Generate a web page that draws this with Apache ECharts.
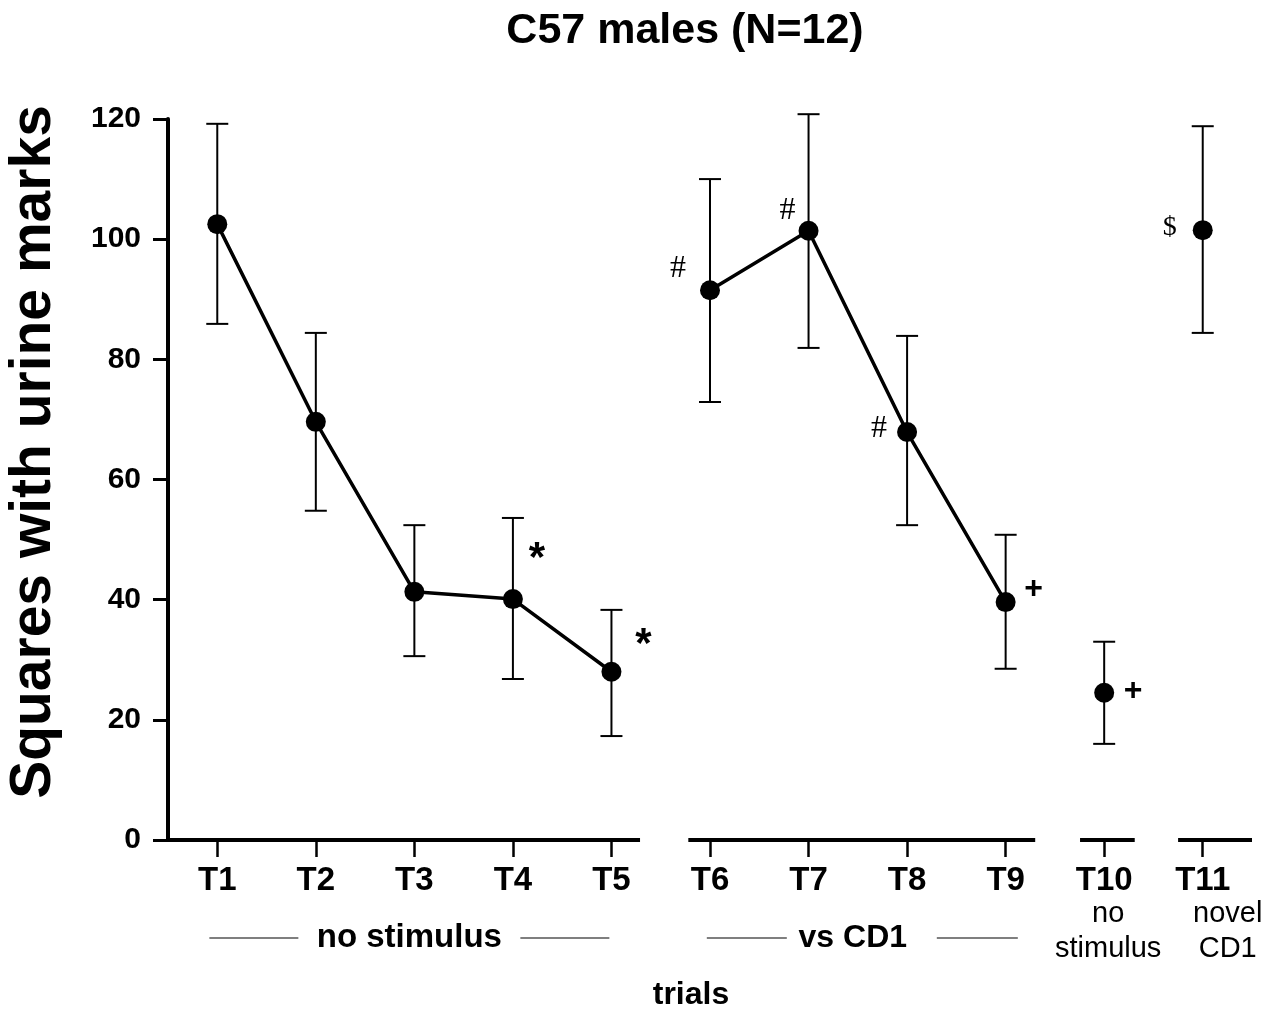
<!DOCTYPE html>
<html>
<head>
<meta charset="utf-8">
<script src="https://cdn.jsdelivr.net/npm/echarts@6/dist/echarts.min.js"></script>
<style>
html, body { margin: 0; padding: 0; background: #fff; }
#main { width: 1284px; height: 1014px; }
</style>
</head>
<body>
<div id="main"></div>
<script>
// data
var trials = ['T1', 'T2', 'T3', 'T4', 'T5', 'T6', 'T7', 'T8', 'T9', 'T10', 'T11'];
var means = [102.5, 69.6, 41.3, 40.1, 28.0, 91.5, 101.4, 67.9, 39.6, 24.5, 101.5];
var upper = [119.2, 84.4, 52.4, 53.6, 38.3, 110.0, 120.8, 83.9, 50.8, 33.0, 118.8];
var lower = [85.9, 54.8, 30.6, 26.8, 17.3, 72.9, 81.9, 52.4, 28.5, 16.0, 84.4];
var phase = [1, 1, 1, 1, 1, 2, 2, 2, 2, 3, 4];
var marks = ['', '', '', '*', '*', '#', '#', '#', '+', '+', '$'];

// layout bits (not data)
var font = "'Liberation Sans', Arial, sans-serif";
var serif = "'Liberation Serif', 'Times New Roman', serif";
var ink = '#000';
var markOffsets = [[0, 0], [0, 0], [0, 0], [24, -40], [32, -26], [-32, -22], [-21, -20], [-28, -3], [28, -13], [29, -2], [-33, -3]];
var axisPieces = [[0, -0.5, 4, 0.29], [5, -0.22, 8, 0.3], [9, -0.245, 9, 0.31], [10, -0.25, 10, 0.5]];

function lineFor(p) {
    return means.map(function (v, i) { return phase[i] === p ? v : '-'; });
}

var markStyle = {
    '*': { fontFamily: font, fontWeight: 'bold', fontSize: 42 },
    '#': { fontFamily: serif, fontWeight: 'normal', fontSize: 32 },
    '+': { fontFamily: font, fontWeight: 'bold', fontSize: 32 },
    '$': { fontFamily: serif, fontWeight: 'normal', fontSize: 28 }
};

var chart = echarts.init(document.getElementById('main'));

var option = {
    animation: false,
    backgroundColor: '#fff',
    title: {
        text: 'C57 males (N=12)',
        left: 680,
        textAlign: 'center',
        top: 5,
        textStyle: { fontFamily: font, fontWeight: 'bold', fontSize: 43, color: ink }
    },
    grid: { left: 168, right: 32, top: 119, bottom: 174 },
    xAxis: {
        type: 'category',
        data: trials,
        boundaryGap: true,
        axisLine: { show: false },
        axisTick: { show: true, alignWithLabel: true, length: 17, lineStyle: { color: ink, width: 2.5 } },
        axisLabel: { color: ink, fontFamily: font, fontWeight: 'bold', fontSize: 33, margin: 24 },
        splitLine: { show: false }
    },
    yAxis: {
        type: 'value',
        min: 0,
        max: 120,
        interval: 20,
        axisLine: { show: true, lineStyle: { color: ink, width: 4 } },
        axisTick: { show: true, length: 15, lineStyle: { color: ink, width: 3 } },
        axisLabel: { color: ink, fontFamily: font, fontWeight: 'bold', fontSize: 30, margin: 27 },
        splitLine: { show: false }
    },
    series: [
        {
            // broken x axis line
            type: 'custom',
            clip: false,
            silent: true,
            data: [[0, 0]],
            renderItem: function (params, api) {
                var band = api.size([1, 0])[0];
                var y0 = api.coord([0, 0])[1];
                return {
                    type: 'group',
                    children: axisPieces.map(function (p) {
                        return {
                            type: 'line',
                            shape: {
                                x1: api.coord([p[0], 0])[0] + p[1] * band, y1: y0,
                                x2: api.coord([p[2], 0])[0] + p[3] * band, y2: y0
                            },
                            style: { stroke: ink, lineWidth: 4 }
                        };
                    })
                };
            },
            z: 3
        },
        {
            // error bars
            type: 'custom',
            clip: false,
            data: trials.map(function (t, i) { return [i, lower[i], upper[i]]; }),
            renderItem: function (params, api) {
                var lo = api.coord([api.value(0), api.value(1)]);
                var hi = api.coord([api.value(0), api.value(2)]);
                var w = 11;
                var st = { stroke: ink, lineWidth: 2 };
                return {
                    type: 'group',
                    children: [
                        { type: 'line', shape: { x1: lo[0], y1: lo[1], x2: hi[0], y2: hi[1] }, style: st },
                        { type: 'line', shape: { x1: hi[0] - w, y1: hi[1], x2: hi[0] + w, y2: hi[1] }, style: st },
                        { type: 'line', shape: { x1: lo[0] - w, y1: lo[1], x2: lo[0] + w, y2: lo[1] }, style: st }
                    ]
                };
            },
            z: 2
        },
        {
            type: 'line',
            data: lineFor(1),
            showSymbol: false,
            lineStyle: { color: ink, width: 3.5 },
            z: 3
        },
        {
            type: 'line',
            data: lineFor(2),
            showSymbol: false,
            lineStyle: { color: ink, width: 3.5 },
            z: 3
        },
        {
            type: 'scatter',
            data: means,
            symbol: 'circle',
            symbolSize: 20,
            itemStyle: { color: ink, opacity: 1 },
            z: 4
        },
        {
            // significance marks
            type: 'scatter',
            symbolSize: 1,
            itemStyle: { color: 'transparent', opacity: 1 },
            data: means.map(function (v, i) {
                var m = marks[i];
                var st = markStyle[m] || {};
                return {
                    value: v,
                    label: {
                        show: m !== '',
                        formatter: m,
                        position: 'inside',
                        offset: markOffsets[i],
                        color: ink,
                        opacity: 1,
                        fontFamily: st.fontFamily,
                        fontWeight: st.fontWeight,
                        fontSize: st.fontSize
                    }
                };
            }),
            z: 5
        }
    ]
};

chart.setOption(option);

// group captions under the axis, centred from the category scale
function px(name) { return chart.convertToPixel({ xAxisIndex: 0 }, name); }
var gy = 938;
var midA = px('T3') - 5;
var midB = (px('T7') + px('T8')) / 2 - 5;
var lineStyle = { stroke: '#555', lineWidth: 1.5 };
chart.setOption({
    graphic: [
        { type: 'line', shape: { x1: midA - 200, y1: gy, x2: midA - 111, y2: gy }, style: lineStyle },
        { type: 'line', shape: { x1: midA + 111, y1: gy, x2: midA + 200, y2: gy }, style: lineStyle },
        { type: 'text', x: midA, y: gy, style: { text: 'no stimulus', fontFamily: font, fontWeight: 'bold', fontSize: 33, fill: ink, textAlign: 'center', textVerticalAlign: 'middle' } },
        { type: 'line', shape: { x1: midB - 146, y1: gy, x2: midB - 66, y2: gy }, style: lineStyle },
        { type: 'line', shape: { x1: midB + 84, y1: gy, x2: midB + 165, y2: gy }, style: lineStyle },
        { type: 'text', x: midB, y: gy, style: { text: 'vs CD1', fontFamily: font, fontWeight: 'bold', fontSize: 32, fill: ink, textAlign: 'center', textVerticalAlign: 'middle' } },
        { type: 'text', x: px('T10') + 4, y: 931, style: { text: 'no\nstimulus', fontFamily: font, fontSize: 29, lineHeight: 35, fill: ink, textAlign: 'center', textVerticalAlign: 'middle' } },
        { type: 'text', x: px('T11') + 25, y: 931, style: { text: 'novel\nCD1', fontFamily: font, fontSize: 29, lineHeight: 35, fill: ink, textAlign: 'center', textVerticalAlign: 'middle' } },
        { type: 'text', x: 691, y: 995, style: { text: 'trials', fontFamily: font, fontWeight: 'bold', fontSize: 32, fill: ink, textAlign: 'center', textVerticalAlign: 'middle' } },
        { type: 'text', x: 34, y: 452, rotation: Math.PI / 2, style: { text: 'Squares with urine marks', fontFamily: font, fontWeight: 'bold', fontSize: 57, fill: ink, textAlign: 'center', textVerticalAlign: 'middle' } }
    ]
});
</script>
</body>
</html>
